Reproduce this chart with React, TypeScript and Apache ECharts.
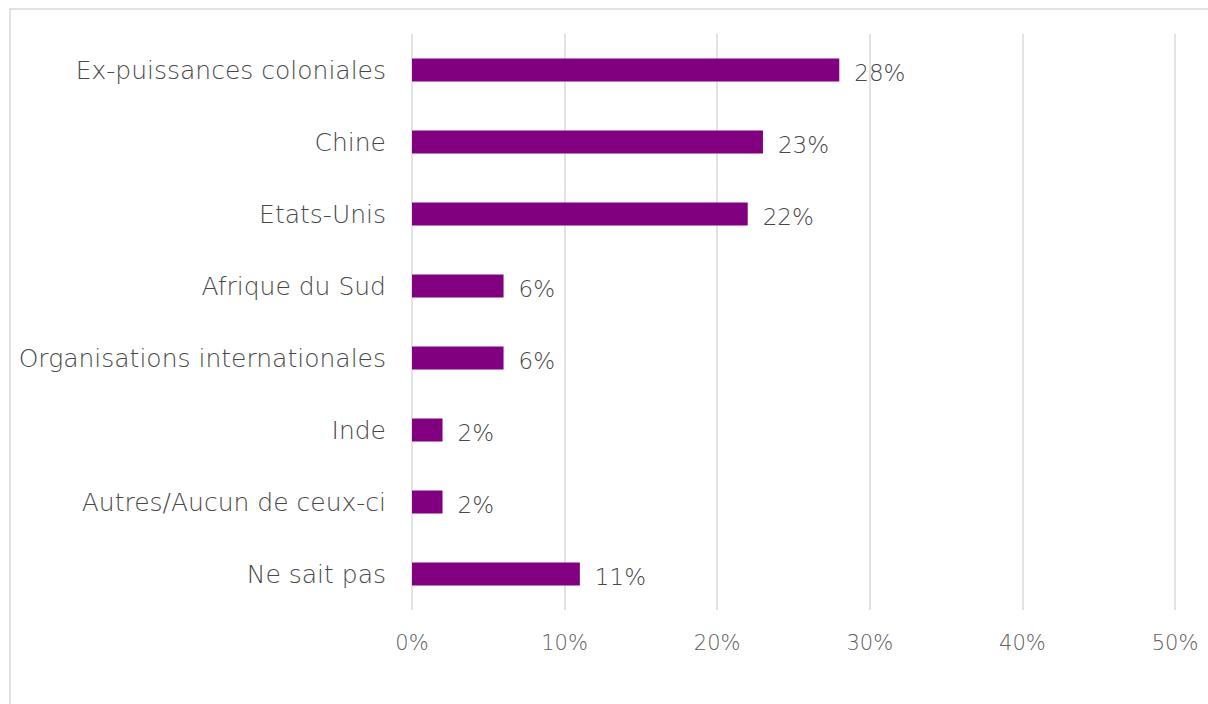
import React, { useEffect, useRef } from "react";
import * as echarts from "echarts";

const categories = [
  "Ex-puissances coloniales",
  "Chine",
  "Etats-Unis",
  "Afrique du Sud",
  "Organisations internationales",
  "Inde",
  "Autres/Aucun de ceux-ci",
  "Ne sait pas",
];
const values = [28, 23, 22, 6, 6, 2, 2, 11];
const axisMax = 50;
const axisInterval = 10;

export default function App() {
  const ref = useRef<HTMLDivElement>(null);
  useEffect(() => {
    document.body.style.margin = "0";
    const chart = echarts.init(ref.current!, undefined, { renderer: "svg" });
    const font = "'DejaVu Sans', sans-serif";
    chart.setOption({
      animation: false,
      backgroundColor: "#ffffff",
      textStyle: { fontFamily: font },
      graphic: [
        {
          type: "rect",
          shape: { x: 10, y: 9, width: 1400, height: 1000 },
          style: { fill: "none", stroke: "#d9d9d9", lineWidth: 1.5 },
          silent: true,
        },
      ],
      grid: { left: 412, right: 33, top: 34, bottom: 94, containLabel: false },
      xAxis: {
        type: "value",
        min: 0,
        max: axisMax,
        interval: axisInterval,
        axisLine: { show: false },
        axisTick: { show: false },
        splitLine: { lineStyle: { color: "#d9d9d9", width: 1.5 } },
        axisLabel: {
          formatter: "{value}%",
          color: "#606060",
          fontSize: 21,
          fontWeight: 200,
          fontFamily: font,
          margin: 22,
        },
      },
      yAxis: {
        type: "category",
        data: categories,
        inverse: true,
        axisLine: { show: false },
        axisTick: { show: false },
        axisLabel: {
          color: "#484848",
          fontSize: 25,
          fontWeight: 200,
          fontFamily: font,
          margin: 26,
        },
      },
      series: [
        {
          type: "bar",
          data: values,
          barWidth: 23,
          itemStyle: { color: "#800080" },
          label: {
            show: true,
            position: "right",
            distance: 15,
            formatter: "{c}%",
            color: "#484848",
            fontSize: 23,
            fontWeight: 200,
            fontFamily: font,
            offset: [0, 3],
          },
        },
      ],
    });
    return () => chart.dispose();
  }, []);
  return <div ref={ref} style={{ width: 1208, height: 704 }} />;
}
